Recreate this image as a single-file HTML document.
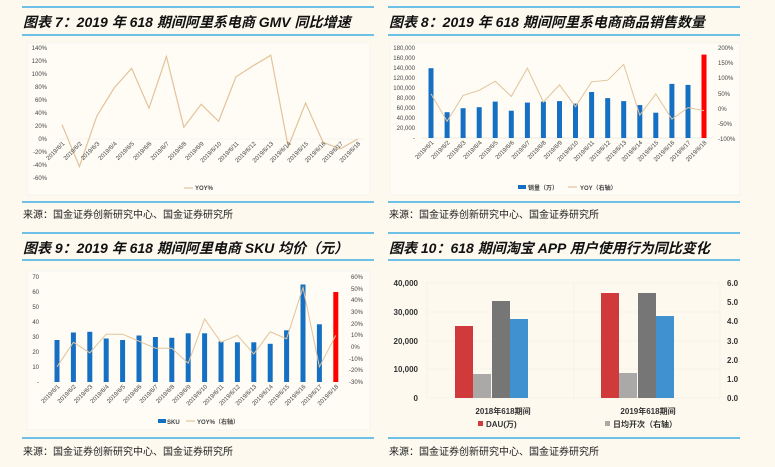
<!DOCTYPE html>
<html><head><meta charset="utf-8"><style>
body{margin:0;background:#fdf9ef;width:775px;height:467px;overflow:hidden}
svg{display:block}
.t{font-family:"Liberation Sans","Noto Sans CJK SC",sans-serif;font-weight:bold;font-style:italic;font-size:14px;fill:#111}
.s{font-family:"Liberation Sans","Noto Sans CJK SC",sans-serif;font-size:10px;fill:#222}
.a{font-family:"Liberation Sans","Noto Sans CJK SC",sans-serif;font-size:6px;fill:#444}
.b{font-family:"Liberation Sans","Noto Sans CJK SC",sans-serif;font-size:8px;fill:#333;font-weight:bold}
</style></head><body>
<svg width="775" height="467" viewBox="0 0 775 467">
<g stroke="#1a9fe0" stroke-width="1.2">
<line x1="22" y1="7" x2="374" y2="7"/><line x1="22" y1="35" x2="374" y2="35"/><line x1="22" y1="202" x2="374" y2="202"/>
<line x1="388" y1="7" x2="740" y2="7"/><line x1="388" y1="35" x2="740" y2="35"/><line x1="388" y1="202" x2="740" y2="202"/>
<line x1="22" y1="233" x2="374" y2="233"/><line x1="22" y1="260" x2="374" y2="260"/><line x1="22" y1="438" x2="374" y2="438"/>
<line x1="388" y1="233" x2="740" y2="233"/><line x1="388" y1="260" x2="740" y2="260"/><line x1="388" y1="438" x2="740" y2="438"/>
</g>
<text class="t" x="23" y="27">图表 7：2019 年 618 期间阿里系电商 GMV 同比增速</text>
<text class="t" x="389" y="27">图表 8：2019 年 618 期间阿里系电商商品销售数量</text>
<text class="t" x="23" y="253">图表 9：2019 年 618 期间阿里电商 SKU 均价（元）</text>
<text class="t" x="389" y="253">图表 10：618 期间淘宝 APP 用户使用行为同比变化</text>
<text class="s" x="23" y="218">来源：国金证券创新研究中心、国金证券研究所</text>
<text class="s" x="389" y="218">来源：国金证券创新研究中心、国金证券研究所</text>
<text class="s" x="23" y="455">来源：国金证券创新研究中心、国金证券研究所</text>
<text class="s" x="389" y="455">来源：国金证券创新研究中心、国金证券研究所</text>

<!-- Chart 1 -->
<rect x="27" y="43" width="343" height="152" fill="#fefcf5" stroke="#eee" stroke-width="0.6"/>
<line x1="55" y1="139" x2="365" y2="139" stroke="#eee" stroke-width="0.6"/>
<g class="a" text-anchor="end">
<text x="47" y="50">140%</text><text x="47" y="63">120%</text><text x="47" y="76">100%</text><text x="47" y="89">80%</text><text x="47" y="102">60%</text><text x="47" y="115">40%</text><text x="47" y="128">20%</text><text x="47" y="141">0%</text><text x="47" y="154">-20%</text><text x="47" y="167">-40%</text><text x="47" y="180">-60%</text>
</g>
<polyline fill="none" stroke="#e3c39a" stroke-width="1.2" points="62,124.6 79.4,166.5 96.8,116.1 114.2,87.9 131.6,68.3 149,108.2 166.4,56.5 183.8,127.2 201.2,104.3 218.6,121.3 236,76.8 253.4,65.6 270.8,55.2 288.2,146.9 305.6,103 323,142.3 340.4,148.8 357.8,139"/>
<g class="a" text-anchor="end">
<text transform="translate(65,144) rotate(-45)">2019/6/1</text><text transform="translate(82.4,144) rotate(-45)">2019/6/2</text><text transform="translate(99.8,144) rotate(-45)">2019/6/3</text><text transform="translate(117.2,144) rotate(-45)">2019/6/4</text><text transform="translate(134.6,144) rotate(-45)">2019/6/5</text><text transform="translate(152,144) rotate(-45)">2019/6/6</text><text transform="translate(169.4,144) rotate(-45)">2019/6/7</text><text transform="translate(186.8,144) rotate(-45)">2019/6/8</text><text transform="translate(204.2,144) rotate(-45)">2019/6/9</text><text transform="translate(221.6,144) rotate(-45)">2019/6/10</text><text transform="translate(239,144) rotate(-45)">2019/6/11</text><text transform="translate(256.4,144) rotate(-45)">2019/6/12</text><text transform="translate(273.8,144) rotate(-45)">2019/6/13</text><text transform="translate(291.2,144) rotate(-45)">2019/6/14</text><text transform="translate(308.6,144) rotate(-45)">2019/6/15</text><text transform="translate(326,144) rotate(-45)">2019/6/16</text><text transform="translate(343.4,144) rotate(-45)">2019/6/17</text><text transform="translate(360.8,144) rotate(-45)">2019/6/18</text>
</g>
<line x1="184" y1="188" x2="193" y2="188" stroke="#e3c39a" stroke-width="1.2"/>
<text class="a" x="195" y="190" style="font-weight:bold">YOY%</text>

<!-- Chart 2 -->
<rect x="390" y="43" width="350" height="152" fill="#fefcf5" stroke="#eee" stroke-width="0.6"/>
<g class="a" text-anchor="end">
<text x="415" y="50">180,000</text><text x="415" y="60">160,000</text><text x="415" y="70">140,000</text><text x="415" y="80">120,000</text><text x="415" y="90">100,000</text><text x="415" y="100">80,000</text><text x="415" y="110">60,000</text><text x="415" y="120">40,000</text><text x="415" y="130">20,000</text><text x="415" y="140">-</text>
</g>
<g class="a">
<text x="718" y="50">200%</text><text x="718" y="65">150%</text><text x="718" y="80">100%</text><text x="718" y="96">50%</text><text x="718" y="111">0%</text><text x="718" y="126">-50%</text><text x="718" y="141">-100%</text>
</g>
<line x1="422" y1="138" x2="712" y2="138" stroke="#ddd" stroke-width="0.6"/>
<g fill="#1570c4">
<rect x="428.5" y="68.2" width="5" height="69.8"/><rect x="444.6" y="112.2" width="5" height="25.8"/><rect x="460.6" y="108.2" width="5" height="29.8"/><rect x="476.7" y="107.2" width="5" height="30.8"/><rect x="492.7" y="101.6" width="5" height="36.4"/><rect x="508.8" y="110.7" width="5" height="27.3"/><rect x="524.9" y="102.6" width="5" height="35.4"/><rect x="540.9" y="101.6" width="5" height="36.4"/><rect x="557" y="101.1" width="5" height="36.9"/><rect x="573" y="103.6" width="5" height="34.4"/><rect x="589.1" y="92" width="5" height="46"/><rect x="605.2" y="98.1" width="5" height="39.9"/><rect x="621.2" y="101.1" width="5" height="36.9"/><rect x="637.3" y="105.1" width="5" height="32.9"/><rect x="653.3" y="112.7" width="5" height="25.3"/><rect x="669.4" y="83.9" width="5" height="54.1"/><rect x="685.5" y="84.9" width="5" height="53.1"/>
</g>
<rect x="701.5" y="54.6" width="5" height="83.4" fill="#ff0000"/>
<polyline fill="none" stroke="#e3c39a" stroke-width="1" points="431,93.9 447.1,121.3 463.1,95.4 479.2,90.3 495.2,81.2 511.3,96.4 527.4,68.1 543.4,102.1 559.5,84.8 575.5,106.7 591.6,81.8 607.7,80.2 623.7,64.4 639.8,115.2 655.8,93.9 671.9,119.2 688,107.6 704,110.6"/>
<g class="a" text-anchor="end">
<text transform="translate(434,143) rotate(-45)">2019/6/1</text><text transform="translate(450.1,143) rotate(-45)">2019/6/2</text><text transform="translate(466.1,143) rotate(-45)">2019/6/3</text><text transform="translate(482.2,143) rotate(-45)">2019/6/4</text><text transform="translate(498.2,143) rotate(-45)">2019/6/5</text><text transform="translate(514.3,143) rotate(-45)">2019/6/6</text><text transform="translate(530.4,143) rotate(-45)">2019/6/7</text><text transform="translate(546.4,143) rotate(-45)">2019/6/8</text><text transform="translate(562.5,143) rotate(-45)">2019/6/9</text><text transform="translate(578.5,143) rotate(-45)">2019/6/10</text><text transform="translate(594.6,143) rotate(-45)">2019/6/11</text><text transform="translate(610.7,143) rotate(-45)">2019/6/12</text><text transform="translate(626.7,143) rotate(-45)">2019/6/13</text><text transform="translate(642.8,143) rotate(-45)">2019/6/14</text><text transform="translate(658.8,143) rotate(-45)">2019/6/15</text><text transform="translate(674.9,143) rotate(-45)">2019/6/16</text><text transform="translate(691,143) rotate(-45)">2019/6/17</text><text transform="translate(707,143) rotate(-45)">2019/6/18</text>
</g>
<rect x="518" y="185" width="8" height="4" fill="#1570c4"/>
<text class="a" x="528" y="190" style="font-weight:bold">销量（万）</text>
<line x1="568" y1="187" x2="577" y2="187" stroke="#e3c39a" stroke-width="1.2"/>
<text class="a" x="580" y="190" style="font-weight:bold">YOY（右轴）</text>

<!-- Chart 3 -->
<rect x="27" y="271" width="343" height="159" fill="#fefcf5" stroke="#eee" stroke-width="0.6"/>
<g class="a" text-anchor="end">
<text x="39" y="279">70</text><text x="39" y="294">60</text><text x="39" y="309">50</text><text x="39" y="324">40</text><text x="39" y="339">30</text><text x="39" y="354">20</text><text x="39" y="369">10</text><text x="39" y="384">-</text>
</g>
<g class="a">
<text x="351" y="279">60%</text><text x="351" y="291">50%</text><text x="351" y="302">40%</text><text x="351" y="314">30%</text><text x="351" y="326">20%</text><text x="351" y="337">10%</text><text x="351" y="349">0%</text><text x="349" y="361">-10%</text><text x="349" y="372">-20%</text><text x="349" y="384">-30%</text>
</g>
<g fill="#1570c4">
<rect x="54.5" y="340" width="5" height="42"/><rect x="70.9" y="332.5" width="5" height="49.5"/><rect x="87.3" y="331.8" width="5" height="50.2"/><rect x="103.7" y="338.5" width="5" height="43.5"/><rect x="120.1" y="340" width="5" height="42"/><rect x="136.5" y="335.5" width="5" height="46.5"/><rect x="152.9" y="337" width="5" height="45"/><rect x="169.3" y="337.8" width="5" height="44.2"/><rect x="185.7" y="333.3" width="5" height="48.7"/><rect x="202.1" y="333.3" width="5" height="48.7"/><rect x="218.5" y="341.5" width="5" height="40.5"/><rect x="234.9" y="342.3" width="5" height="39.7"/><rect x="251.3" y="342.3" width="5" height="39.7"/><rect x="267.7" y="343.8" width="5" height="38.2"/><rect x="284.1" y="330.3" width="5" height="51.7"/><rect x="300.5" y="284.5" width="5" height="97.5"/><rect x="316.9" y="324.3" width="5" height="57.7"/>
</g>
<rect x="333.3" y="292" width="5" height="90" fill="#ff0000"/>
<polyline fill="none" stroke="#e3c39a" stroke-width="1" points="57,366.8 73.4,342.3 89.8,352.8 106.2,334.2 122.6,334.2 139,341.2 155.4,348.2 171.8,348.2 188.2,363.3 204.6,319 221,342.3 237.4,335.3 253.8,354 270.2,331.8 286.6,338.8 303,287.5 319.4,366.8 335.8,335.3"/>
<g class="a" text-anchor="end">
<text transform="translate(60,387) rotate(-45)">2019/6/1</text><text transform="translate(76.4,387) rotate(-45)">2019/6/2</text><text transform="translate(92.8,387) rotate(-45)">2019/6/3</text><text transform="translate(109.2,387) rotate(-45)">2019/6/4</text><text transform="translate(125.6,387) rotate(-45)">2019/6/5</text><text transform="translate(142,387) rotate(-45)">2019/6/6</text><text transform="translate(158.4,387) rotate(-45)">2019/6/7</text><text transform="translate(174.8,387) rotate(-45)">2019/6/8</text><text transform="translate(191.2,387) rotate(-45)">2019/6/9</text><text transform="translate(207.6,387) rotate(-45)">2019/6/10</text><text transform="translate(224,387) rotate(-45)">2019/6/11</text><text transform="translate(240.4,387) rotate(-45)">2019/6/12</text><text transform="translate(256.8,387) rotate(-45)">2019/6/13</text><text transform="translate(273.2,387) rotate(-45)">2019/6/14</text><text transform="translate(289.6,387) rotate(-45)">2019/6/15</text><text transform="translate(306,387) rotate(-45)">2019/6/16</text><text transform="translate(322.4,387) rotate(-45)">2019/6/17</text><text transform="translate(338.8,387) rotate(-45)">2019/6/18</text>
</g>
<rect x="158" y="419" width="8" height="4" fill="#1570c4"/>
<text class="a" x="167" y="424" style="font-weight:bold">SKU</text>
<line x1="186" y1="421" x2="195" y2="421" stroke="#e3c39a" stroke-width="1.2"/>
<text class="a" x="197" y="424" style="font-weight:bold">YOY%（右轴）</text>

<!-- Chart 4 -->
<rect x="390" y="270" width="350" height="160" fill="#fdf9ef"/>
<g stroke="#f0ece2" stroke-width="0.6">
<line x1="427" y1="283" x2="720" y2="283"/><line x1="427" y1="312" x2="720" y2="312"/><line x1="427" y1="341" x2="720" y2="341"/><line x1="427" y1="369" x2="720" y2="369"/><line x1="427" y1="398" x2="720" y2="398"/>
<line x1="427" y1="283" x2="427" y2="398"/><line x1="574" y1="283" x2="574" y2="398"/><line x1="720" y1="283" x2="720" y2="398"/>
</g>
<g class="b" text-anchor="end">
<text x="418" y="286">40,000</text><text x="418" y="315">30,000</text><text x="418" y="344">20,000</text><text x="418" y="372">10,000</text><text x="418" y="401">0</text>
</g>
<g class="b">
<text x="727" y="286">6.0</text><text x="727" y="305">5.0</text><text x="727" y="324">4.0</text><text x="727" y="344">3.0</text><text x="727" y="363">2.0</text><text x="727" y="382">1.0</text><text x="727" y="401">0.0</text>
</g>
<rect x="455" y="326" width="18" height="72" fill="#d03a3a"/>
<rect x="473" y="374" width="18" height="24" fill="#aaa9a8"/>
<rect x="492" y="301" width="18" height="97" fill="#767676"/>
<rect x="510" y="319" width="18" height="79" fill="#3f91cf"/>
<rect x="601" y="293" width="18" height="105" fill="#d03a3a"/>
<rect x="619" y="373" width="18" height="25" fill="#aaa9a8"/>
<rect x="638" y="293" width="18" height="105" fill="#767676"/>
<rect x="656" y="316" width="18" height="82" fill="#3f91cf"/>
<text class="b" x="503" y="414" text-anchor="middle">2018年618期间</text>
<text class="b" x="648" y="414" text-anchor="middle">2019年618期间</text>
<rect x="478" y="421" width="5" height="5" fill="#d03a3a"/>
<text class="b" x="486" y="427">DAU(万)</text>
<rect x="605" y="421" width="5" height="5" fill="#aaa9a8"/>
<text class="b" x="613" y="427">日均开次（右轴）</text>
</svg>
</body></html>
